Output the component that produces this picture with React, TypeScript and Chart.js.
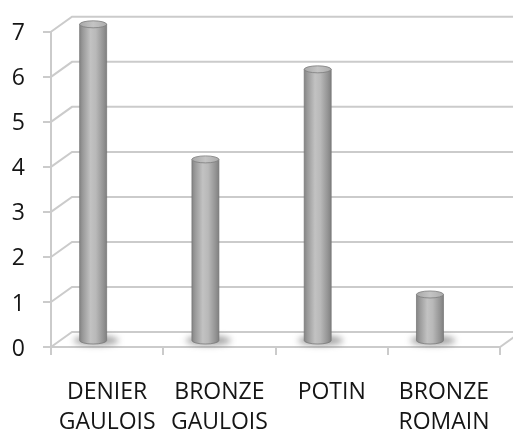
import React, { useEffect, useRef } from 'react';
import { Chart, registerables } from 'chart.js';

Chart.register(...registerables);

const categories: string[][] = [
  ['DENIER', 'GAULOIS'],
  ['BRONZE', 'GAULOIS'],
  ['POTIN'],
  ['BRONZE', 'ROMAIN'],
];
const values: number[] = [7, 4, 6, 1];
const yTicks: number[] = [0, 1, 2, 3, 4, 5, 6, 7];

const DX = 21;
const DY = -15;
const GRID = '#cbcbcb';
const BAR_SHIFT_X = -14;

const threeD = {
  id: 'threeD',
  beforeDatasetsDraw(chart: any) {
    const { ctx, chartArea, scales } = chart;
    const y = scales.y;
    ctx.save();
    ctx.strokeStyle = GRID;
    ctx.lineWidth = 2;
    for (const v of yTicks) {
      const py = y.getPixelForValue(v);
      ctx.beginPath();
      ctx.moveTo(chartArea.left, py);
      ctx.lineTo(chartArea.left + DX, py + DY);
      ctx.lineTo(chartArea.right + DX, py + DY);
      ctx.stroke();
    }
    const p0 = y.getPixelForValue(0);
    ctx.beginPath();
    ctx.moveTo(chartArea.right, p0);
    ctx.lineTo(chartArea.right + DX, p0 + DY);
    ctx.stroke();
    ctx.restore();
  },
  afterDatasetsDraw(chart: any) {
    const { ctx } = chart;
    const meta = chart.getDatasetMeta(0);
    meta.data.forEach((bar: any) => {
      const p = bar.getProps(['x', 'y', 'base', 'width'], true);
      const cx = p.x + BAR_SHIFT_X;
      const top = p.y + DY / 2;
      const bottom = p.base + DY / 2 + 2;
      const rx = p.width / 2;
      const ry = 3.5;
      ctx.save();
      // shadow
      ctx.filter = 'blur(3px)';
      ctx.fillStyle = 'rgba(90,90,90,0.55)';
      ctx.beginPath();
      ctx.ellipse(cx + 3, bottom, rx + 9, 5, 0, 0, Math.PI * 2);
      ctx.fill();
      ctx.filter = 'none';
      // body
      const g = ctx.createLinearGradient(cx - rx, 0, cx + rx, 0);
      g.addColorStop(0, '#858585');
      g.addColorStop(0.12, '#9a9a9a');
      g.addColorStop(0.4, '#c2c2c2');
      g.addColorStop(0.6, '#b9b9b9');
      g.addColorStop(0.88, '#939393');
      g.addColorStop(1, '#808080');
      ctx.fillStyle = g;
      ctx.beginPath();
      ctx.moveTo(cx - rx, top);
      ctx.lineTo(cx - rx, bottom);
      ctx.ellipse(cx, bottom, rx, ry, 0, Math.PI, 0, true);
      ctx.lineTo(cx + rx, top);
      ctx.closePath();
      ctx.fill();
      ctx.strokeStyle = 'rgba(115,115,115,0.7)';
      ctx.lineWidth = 1;
      ctx.stroke();
      // top cap
      const gt = ctx.createLinearGradient(cx - rx, 0, cx + rx, 0);
      gt.addColorStop(0, '#a8a8a8');
      gt.addColorStop(0.5, '#c4c4c4');
      gt.addColorStop(1, '#acacac');
      ctx.fillStyle = gt;
      ctx.beginPath();
      ctx.ellipse(cx, top, rx, ry, 0, 0, Math.PI * 2);
      ctx.fill();
      ctx.strokeStyle = 'rgba(125,125,125,0.8)';
      ctx.stroke();
      ctx.restore();
    });
  },
};

export default function App() {
  const ref = useRef<HTMLCanvasElement>(null);
  useEffect(() => {
    if (!ref.current) return;
    const chart = new Chart(ref.current, {
      type: 'bar',
      data: {
        labels: categories,
        datasets: [
          {
            data: values,
            backgroundColor: 'rgba(0,0,0,0)',
            borderWidth: 0,
            barThickness: 27,
          },
        ],
      },
      options: {
        animation: false,
        responsive: false,
        maintainAspectRatio: false,
        events: [],
        layout: { padding: { top: 29, right: 12, left: 0, bottom: 0 } },
        plugins: { legend: { display: false }, tooltip: { enabled: false } },
        scales: {
          x: {
            afterFit: (s: any) => {
              s.height = 83;
            },
            grid: {
              display: true,
              drawOnChartArea: false,
              drawTicks: true,
              tickLength: 8,
              color: GRID,
              lineWidth: 2,
              offset: true,
            },
            border: { display: true, color: GRID, width: 2 },
            ticks: {
              color: '#151515',
              padding: 22,
              maxRotation: 0,
              autoSkip: false,
              font: { family: '"Open Sans", sans-serif', size: 23, lineHeight: '30px' },
            },
          },
          y: {
            min: 0,
            max: 7,
            afterFit: (s: any) => {
              s.width = 51;
            },
            grid: {
              display: true,
              drawOnChartArea: false,
              drawTicks: true,
              tickLength: 8,
              color: GRID,
              lineWidth: 2,
            },
            border: { display: true, color: GRID, width: 2 },
            ticks: {
              stepSize: 1,
              color: '#151515',
              padding: 18,
              labelOffset: 2,
              font: { family: '"Open Sans", sans-serif', size: 23 },
            },
          },
        },
      },
      plugins: [threeD],
    });
    return () => chart.destroy();
  }, []);
  return (
    <div style={{ position: 'fixed', left: 0, top: 0, width: 513, height: 430, background: '#fff' }}>
      <canvas ref={ref} width={513} height={430} style={{ display: 'block' }} />
    </div>
  );
}
